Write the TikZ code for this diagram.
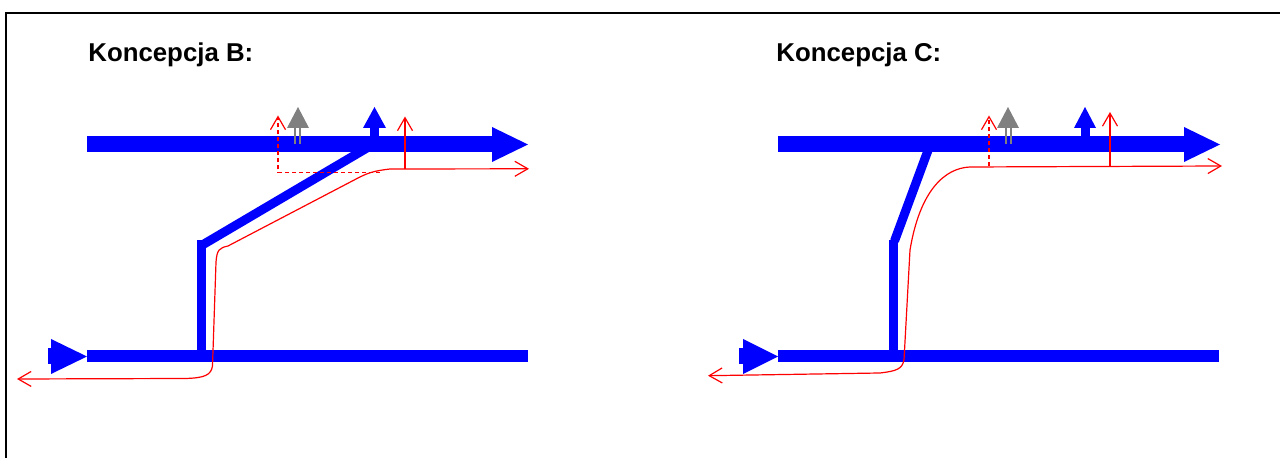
\documentclass[tikz,border=0pt]{standalone}
\usepackage{fontspec}
\setmainfont{Liberation Sans}
\usetikzlibrary{arrows.meta}

\begin{document}
\begin{tikzpicture}[x=0.5pt, y=-0.5pt,
      title/.style={anchor=base west, inner sep=0pt, font=\fontsize{12.9}{15}\selectfont\bfseries},
      mainline/.style={blue, line width=8pt},
      sideline/.style={blue, line width=6pt},
      link/.style={blue, line width=4.5pt},
      stem/.style={gray, line width=1pt},
      route/.style={red, line width=0.6pt},
      alt/.style={red, line width=0.6pt, dash pattern=on 2pt off 1.5pt},
      >={Straight Barb[length=6.5pt, width=7.5pt]}
    ]
    \useasboundingbox (0,0) rectangle (1280,458);
    \draw[line width=1pt] (6,458) -- (6,13) -- (1281,13);

    % Koncepcja B
    \node[title] (titleB) at (88,62) {Koncepcja B:};
    \draw[mainline] (87,144.5) -- (493,144.5);
    \fill[blue] (492,127) -- (528,144.5) -- (492,162) -- cycle;
    \draw[sideline] (87,356.5) -- (528,356.5);
    \fill[blue] (48,348) rectangle (51.5,364);
    \fill[blue] (51,339) -- (87,356.5) -- (51,374) -- cycle;
    \draw[link] (201,357) -- (201,240);
    \draw[link] (204,244) -- (372,145);
    \fill[blue] (370,137) rectangle (379,127);
    \fill[blue] (363,128) -- (386,128) -- (374.5,107) -- cycle;
    \fill[gray] (287,128) -- (309,128) -- (298,107) -- cycle;
    \draw[stem] (295,127) -- (295,144) (300,127) -- (300,144);

    \draw[route, <->] (17,379) -- (185,378.5)
      .. controls (205,378) and (211,375) .. (212.5,366) -- (216,262)
      .. controls (217,250) and (219,248) .. (228,246) -- (358,178)
      .. controls (368,173) and (373,171) .. (390,169) -- (529,168.8);
    \draw[alt, ->] (380,172.5) -- (278,172.5) -- (278,115.5);
    \draw[route, ->] (405,169) -- (405,116.5);

    % Koncepcja C
    \node[title] (titleC) at (776,62) {Koncepcja C:};
    \draw[mainline] (778,144.5) -- (1185,144.5);
    \fill[blue] (1184,127) -- (1220,144.5) -- (1184,162) -- cycle;
    \draw[sideline] (778,356.5) -- (1219,356.5);
    \fill[blue] (739,348) rectangle (743.5,364);
    \fill[blue] (743,339) -- (778,356.5) -- (743,374) -- cycle;
    \draw[link] (893,357) -- (893,240);
    \draw[link] (894.5,241) -- (930,145);
    \fill[blue] (1081,137) rectangle (1089.5,127);
    \fill[blue] (1074,128) -- (1096,128) -- (1085,107) -- cycle;
    \fill[gray] (997,128) -- (1019,128) -- (1008,107) -- cycle;
    \draw[stem] (1005.5,127) -- (1005.5,144) (1011,127) -- (1011,144);

    \draw[route, <->] (708,375.7) -- (880,373)
      .. controls (897,371) and (902,369) .. (904,360) -- (910,250)
      .. controls (920,190) and (945,168) .. (970,167) -- (1222,166);
    \draw[alt, ->] (989,166) -- (989,115.5);
    \draw[route, ->] (1110,166) -- (1110,112);
\end{tikzpicture}
\end{document}
